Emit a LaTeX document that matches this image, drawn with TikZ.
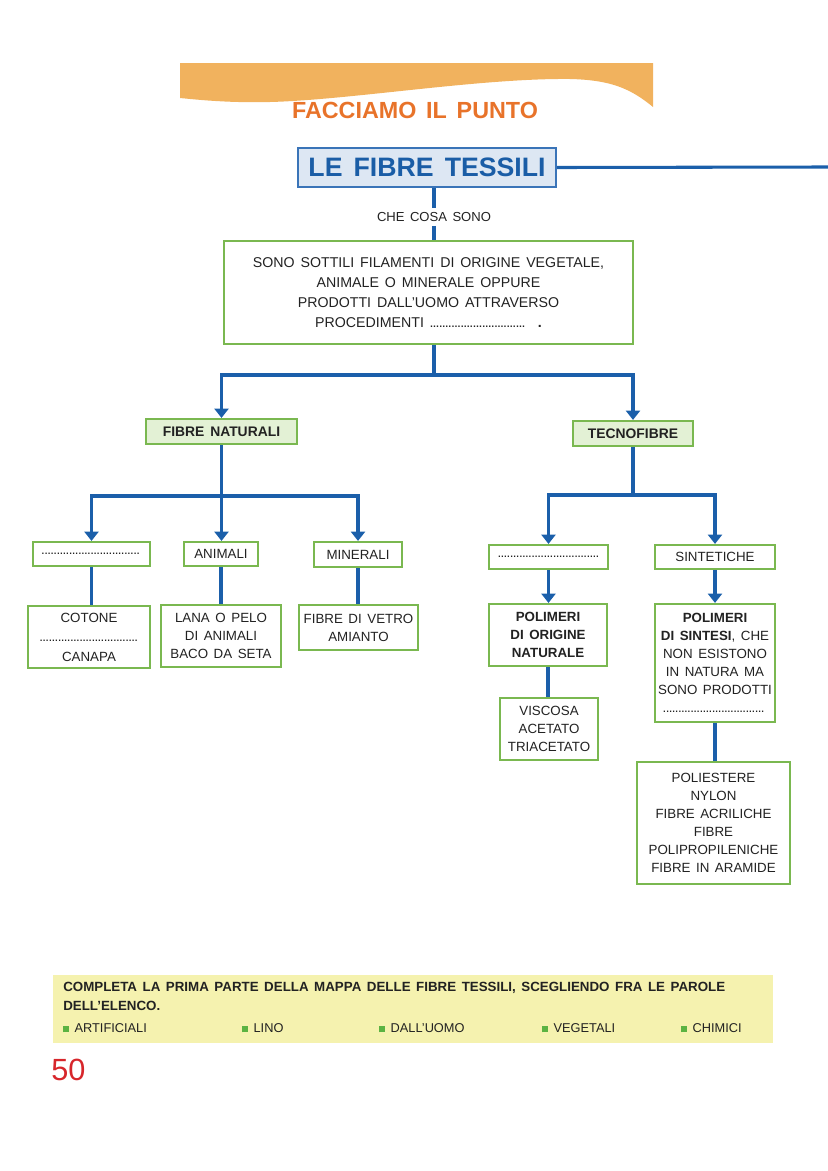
\documentclass[tikz,border=0pt]{standalone}
\usepackage{fontspec}
\setmainfont{Liberation Sans}[WordSpace=1.5]
\usetikzlibrary{arrows.meta}
\definecolor{lblue}{HTML}{1B5FAA}
\definecolor{gborder}{HTML}{7AB850}
\definecolor{gfill}{HTML}{E3F1D5}
\definecolor{tfill}{HTML}{DDE7F3}
\definecolor{tborder}{HTML}{3A74B8}
\definecolor{ttext}{HTML}{1A5DA6}
\definecolor{banner}{HTML}{F1B25E}
\definecolor{otext}{HTML}{E8732A}
\definecolor{band}{HTML}{F5F2AF}
\definecolor{sqgreen}{HTML}{5BB342}
\definecolor{pagered}{HTML}{D7262B}
\definecolor{txt}{HTML}{222222}
\newcommand\dotrow[1]{\hbox to #1{\leaders\hbox to 2.3pt{\hss.\hss}\hfill}}
\begin{document}
\begin{tikzpicture}[x=0.75pt,y=-0.75pt,
  gbox/.style={draw=gborder, line width=1.6pt, fill=white, align=center, inner sep=0pt, text=txt,
    font=\fontsize{10}{13.5}\selectfont},
  hbox/.style={gbox, fill=gfill, font=\fontsize{10.4}{13}\selectfont\bfseries},
  sz/.style 2 args={minimum width=#1*0.75pt, minimum height=#2*0.75pt},
  lnk/.style={draw=lblue, line width=2.3pt},
  arr/.style={lnk, -{Triangle[width=10.5pt,length=7pt]}},
  bandtxt/.style={anchor=west, inner sep=0pt, text=txt, font=\fontsize{9.6}{12}\selectfont}
]
\useasboundingbox (0,0) rectangle (828,1171);
% banner
\fill[banner] (180,63) -- (653,63) -- (653,107)
  .. controls (630,88) and (610,80) .. (570,79)
  .. controls (480,78) and (350,100) .. (270,102)
  .. controls (230,103) and (200,100) .. (180,98) -- cycle;
\node[text=otext, font=\fontsize{17.5}{20}\selectfont\bfseries, inner sep=0pt] (head) at (415,110) {FACCIAMO IL PUNTO};
% title
\node[draw=tborder, fill=tfill, line width=1.5pt, text=ttext, sz={258}{39}, inner sep=0pt,
  font=\fontsize{20}{24}\selectfont\bfseries] (title) at (427,167.5) {LE FIBRE TESSILI};
\coordinate (edge) at (828,167);
\draw[lnk] (title.east) -- (edge);
\node[inner sep=3pt, text=txt, font=\fontsize{9.8}{12}\selectfont] (che) at (434,217) {CHE COSA SONO};
\draw[lnk] (title.south -| che.north) -- (che.north);
\node[gbox, sz={409}{103}, font=\fontsize{10.65}{15}\selectfont] (main) at (428.5,292.5)
  {SONO SOTTILI FILAMENTI DI ORIGINE VEGETALE,\\ANIMALE O MINERALE OPPURE\\PRODOTTI DALL'UOMO ATTRAVERSO\\PROCEDIMENTI \dotrow{72pt}\ \ \textbf{.}};
\draw[lnk] (che.south) -- (main.north -| che.south);
% level 2
\node[hbox, sz={151}{25}] (fn) at (221.5,431.5) {FIBRE NATURALI};
\node[hbox, sz={120}{25}] (tf) at (633,433.5) {TECNOFIBRE};
\coordinate (j1) at (434,375);
\draw[lnk] (main.south -| j1) -- (j1);
\draw[arr] (j1) -| (fn.north);
\draw[arr] (j1) -| (tf.north);
% natural branch
\node[gbox, sz={117}{24}] (d1) at (91.5,554) {\dotrow{75pt}};
\node[gbox, sz={74}{24}] (ani) at (221,554) {ANIMALI};
\node[gbox, sz={88}{25}] (min) at (358,554.5) {MINERALI};
\coordinate (j2) at (221.5,496);
\draw[lnk] (fn.south) -- (j2);
\draw[arr] (j2) -| (d1.north);
\draw[arr] (j2) -- (ani.north -| j2);
\draw[arr] (j2) -| (min.north);
\node[gbox, sz={122}{62}, font=\fontsize{10}{14.6}\selectfont] (cot) at (89,637) {COTONE\\\dotrow{74pt}\\CANAPA};
\node[gbox, sz={120}{62}] (lana) at (221,636) {LANA O PELO\\DI ANIMALI\\BACO DA SETA};
\node[gbox, sz={119}{45}] (vet) at (358.5,627.5) {FIBRE DI VETRO\\AMIANTO};
\draw[lnk] (d1.south) -- (cot.north -| d1.south);
\draw[lnk] (ani.south) -- (lana.north -| ani.south);
\draw[lnk] (min.south) -- (vet.north -| min.south);
% tecno branch
\node[gbox, sz={119}{24}] (d2) at (548.5,557) {\dotrow{76pt}};
\node[gbox, sz={120}{24}] (sin) at (715,557) {SINTETICHE};
\coordinate (j3) at (633,495);
\draw[lnk] (tf.south) -- (j3);
\draw[arr] (j3) -| (d2.north);
\draw[arr] (j3) -| (sin.north);
\node[gbox, sz={118}{62}, font=\fontsize{10}{13.5}\selectfont\bfseries] (pn) at (548,635) {POLIMERI\\DI ORIGINE\\NATURALE};
\node[gbox, sz={120}{118}] (ps) at (715,663) {\textbf{POLIMERI}\\\textbf{DI SINTESI}, CHE\\NON ESISTONO\\IN NATURA MA\\SONO PRODOTTI\\\dotrow{78pt}};
\draw[arr] (d2.south) -- (pn.north -| d2.south);
\draw[arr] (sin.south) -- (ps.north -| sin.south);
\node[gbox, sz={98}{62}] (vis) at (549,729) {VISCOSA\\ACETATO\\TRIACETATO};
\node[gbox, sz={153}{122}] (pol) at (713.5,823) {POLIESTERE\\NYLON\\FIBRE ACRILICHE\\FIBRE\\POLIPROPILENICHE\\FIBRE IN ARAMIDE};
\draw[lnk] (pn.south) -- (vis.north -| pn.south);
\draw[lnk] (ps.south) -- (pol.north -| ps.south);
% bottom band
\fill[band] (53,975) rectangle (773,1043);
\node[bandtxt, font=\fontsize{10}{12}\selectfont\bfseries] (q1) at (63,988) {COMPLETA LA PRIMA PARTE DELLA MAPPA DELLE FIBRE TESSILI, SCEGLIENDO FRA LE PAROLE};
\node[bandtxt, font=\fontsize{10}{12}\selectfont\bfseries] (q2) at (63,1006) {DELL'ELENCO\textbf{.}};
\node[bandtxt] (w1) at (63,1028) {{\color{sqgreen}\rule{4.5pt}{4.5pt}} ARTIFICIALI};
\node[bandtxt] (w2) at (242,1028) {{\color{sqgreen}\rule{4.5pt}{4.5pt}} LINO};
\node[bandtxt] (w3) at (379,1028) {{\color{sqgreen}\rule{4.5pt}{4.5pt}} DALL'UOMO};
\node[bandtxt] (w4) at (542,1028) {{\color{sqgreen}\rule{4.5pt}{4.5pt}} VEGETALI};
\node[bandtxt] (w5) at (681,1028) {{\color{sqgreen}\rule{4.5pt}{4.5pt}} CHIMICI};
\node[anchor=west, inner sep=0pt, text=pagered, font=\fontsize{23}{26}\selectfont] (pg) at (51,1070) {50};
\end{tikzpicture}
\end{document}
